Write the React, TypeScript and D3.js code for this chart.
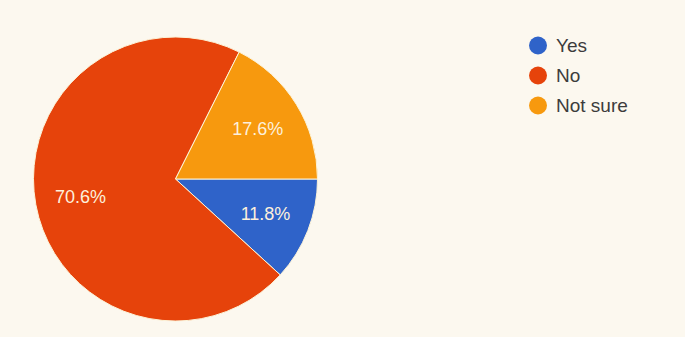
import React from "react";
import * as d3 from "d3";

const categories = ["Yes", "No", "Not sure"];
const values = [11.8, 70.6, 17.6];
const colors = ["#2f63c9", "#e6430b", "#f7990e"];

const W = 685;
const H = 337;
const cx = 175.5;
const cy = 179;
const radius = 142;

export default function App() {
  const pie = d3
    .pie<number>()
    .sort(null)
    .startAngle(Math.PI / 2)
    .endAngle(Math.PI / 2 + 2 * Math.PI);
  const arcs = pie(values);
  const arc = d3.arc<d3.PieArcDatum<number>>().innerRadius(0).outerRadius(radius);
  const labelArc = d3
    .arc<d3.PieArcDatum<number>>()
    .innerRadius(radius * 0.68)
    .outerRadius(radius * 0.68);

  return (
    <svg
      width={W}
      height={H}
      style={{ position: "absolute", left: 0, top: 0, background: "#fcf8ef" }}
      fontFamily="'Liberation Sans', Arial, sans-serif"
    >
      <rect width={W} height={H} fill="#fcf8ef" />
      <g transform={`translate(${cx},${cy})`}>
        {arcs.map((a, i) => (
          <path key={categories[i]} d={arc(a) || ""} fill={colors[i]} stroke="#fcf3d8" strokeWidth={1} />
        ))}
        {arcs.map((a, i) => {
          const [x, y] = labelArc.centroid(a);
          return (
            <text
              key={"l" + i}
              x={x}
              y={y}
              dy="0.35em"
              textAnchor="middle"
              fontSize={18}
              fill="#fdf0dc"
            >
              {`${values[i].toFixed(1)}%`}
            </text>
          );
        })}
      </g>
      <g>
        {categories.map((c, i) => (
          <g key={c} transform={`translate(538,${45.5 + i * 30})`}>
            <circle r={9} fill={colors[i]} />
            <text x={18} dy="0.35em" fontSize={19} fill="#3c3c3c">
              {c}
            </text>
          </g>
        ))}
      </g>
    </svg>
  );
}
